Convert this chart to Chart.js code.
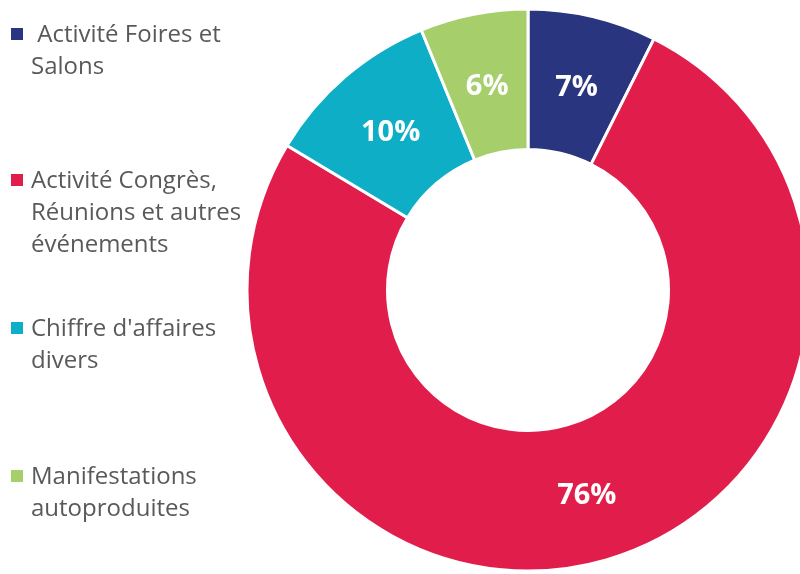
<!DOCTYPE html>
<html>
<head>
<meta charset="utf-8">
<script src="https://cdn.jsdelivr.net/npm/chart.js@4.4.0/dist/chart.umd.min.js"></script>
<style>
    html, body { margin: 0; padding: 0; background: #fff; overflow: hidden; }
    #wrap { position: relative; width: 800px; height: 574px; overflow: hidden; }
    #repartition_chart { position: absolute; left: 0; top: 0; }
    #legend { position: absolute; left: 0; top: 0; font-family: "Open Sans", sans-serif; font-size: 24px; color: #595959; }
    #legend .item { position: absolute; left: 10px; width: 240px; line-height: 32px; }
    #legend .box { position: absolute; left: 1px; top: 11px; width: 12px; height: 12px; }
    #legend .txt { margin-left: 21px; white-space: pre; }
</style>
</head>
<body>
<div id="wrap">
    <canvas id="repartition_chart" width="820" height="574"></canvas>
    <div id="legend"></div>
</div>
<script>
// categories (une ligne par ligne de legende)
const labels = [
    [" Activité Foires et", "Salons"],
    ["Activité Congrès,", "Réunions et autres", "événements"],
    ["Chiffre d'affaires", "divers"],
    ["Manifestations", "autoproduites"]
];
// parts du chiffre d'affaires (%)
const values = [7.4, 76.2, 10.2, 6.2];
const colors = ["#2a3580", "#e11e4b", "#0eafc6", "#a6cf6b"];
// position verticale de chaque entree de legende
const legend_tops = [17, 163, 311, 459];

const labels_plugin = {
    id: 'pct_labels',
    afterDatasetsDraw(chart) {
        const ctx = chart.ctx;
        const meta = chart.getDatasetMeta(0);
        ctx.save();
        ctx.fillStyle = "#ffffff";
        ctx.font = "bold 29px 'Open Sans'";
        ctx.textAlign = "center";
        ctx.textBaseline = "middle";
        meta.data.forEach((arc, i) => {
            const pos = arc.tooltipPosition();
            ctx.fillText(Math.round(values[i]) + "%", pos.x, pos.y + 3);
        });
        ctx.restore();
    }
};

const ctx = document.getElementById('repartition_chart').getContext('2d');
const chart = new Chart(ctx, {
    type: 'doughnut',
    data: {
        labels: labels,
        datasets: [{
            data: values,
            backgroundColor: colors,
            borderColor: "#ffffff",
            borderWidth: 3
        }]
    },
    options: {
        responsive: false,
        animation: false,
        cutout: '50%',
        layout: { padding: { left: 245.5, right: 9.5, top: 7.5, bottom: 1.5 } },
        plugins: {
            legend: { display: false },
            tooltip: { enabled: true }
        }
    },
    plugins: [labels_plugin]
});

// legende html
const text = [];
labels.forEach((lab, i) => {
    text.push('<div class="item" style="top:' + legend_tops[i] + 'px">');
    text.push('<span class="box" style="background-color:' + colors[i] + '"></span>');
    text.push('<div class="txt">' + lab.join("<br>") + '</div>');
    text.push('</div>');
});
document.getElementById('legend').innerHTML = text.join("");
</script>
</body>
</html>
